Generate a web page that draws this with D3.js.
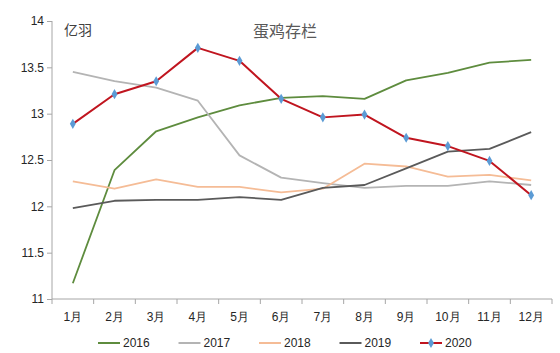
<!DOCTYPE html>
<html>
<head>
<meta charset="utf-8">
<script src="https://cdn.jsdelivr.net/npm/d3@7"></script>
<style>
  body { margin: 0; background: #fff; }
  svg { font-family: "Liberation Sans", Arial, "Noto Sans CJK SC", sans-serif; }
  .axis path, .axis line { stroke: #a6a6a6; }
  .axis text { fill: #262626; font-size: 12px; }
</style>
</head>
<body>
<svg id="chart"></svg>
<script>
// months and y ticks
const months = ["1月", "2月", "3月", "4月", "5月", "6月", "7月", "8月", "9月", "10月", "11月", "12月"];
const yTicks = [11, 11.5, 12, 12.5, 13, 13.5, 14];

// values (亿羽)
const s2016 = [11.17, 12.39, 12.81, 12.96, 13.09, 13.17, 13.19, 13.16, 13.36, 13.44, 13.55, 13.58];
const s2017 = [13.45, 13.35, 13.28, 13.14, 12.55, 12.31, 12.25, 12.20, 12.22, 12.22, 12.27, 12.23];
const s2018 = [12.27, 12.19, 12.29, 12.21, 12.21, 12.15, 12.19, 12.46, 12.43, 12.32, 12.34, 12.28];
const s2019 = [11.98, 12.06, 12.07, 12.07, 12.10, 12.07, 12.20, 12.23, 12.41, 12.59, 12.62, 12.80];
const s2020 = [12.89, 13.21, 13.35, 13.71, 13.57, 13.16, 12.96, 12.99, 12.74, 12.65, 12.49, 12.12];

const seriesNames = ["2016", "2017", "2018", "2019", "2020"];
const seriesValues = [s2016, s2017, s2018, s2019, s2020];
const colors = ["#5e8c3e", "#b4b4b4", "#f5bc96", "#5a5a5a", "#c0151f"];

const width = 560, height = 353;
const margin = { top: 21, right: 8, bottom: 54, left: 52 };
const innerW = width - margin.left - margin.right;
const innerH = height - margin.top - margin.bottom;

const svg = d3.select("#chart")
    .attr("width", width)
    .attr("height", height);

const chart = svg.append("g")
    .attr("transform", `translate(${margin.left},${margin.top})`);

const xScale = d3.scaleBand()
    .domain(months)
    .range([0, innerW]);

const yScale = d3.scaleLinear()
    .domain([11, 14])
    .range([innerH, 0]);

// axes
const xAxis = d3.axisBottom(xScale).tickSize(0).tickPadding(13);
const xAxisG = chart.append("g")
    .attr("class", "axis x-axis")
    .attr("transform", `translate(0,${innerH})`)
    .call(xAxis);
xAxisG.select(".domain").attr("d", `M0,0H${innerW}`);

// band boundary ticks
xAxisG.selectAll(".bound")
    .data(d3.range(months.length + 1))
    .join("line")
    .attr("class", "bound")
    .attr("x1", i => i * xScale.step())
    .attr("x2", i => i * xScale.step())
    .attr("y1", 0)
    .attr("y2", 5);

const yAxis = d3.axisLeft(yScale)
    .tickValues(yTicks)
    .tickFormat(d3.format("~g"))
    .tickSize(5)
    .tickPadding(3);
const yAxisG = chart.append("g")
    .attr("class", "axis y-axis")
    .call(yAxis);
yAxisG.select(".domain").attr("d", `M0,${innerH}V0`);

// lines
const line = d3.line()
    .x((d, i) => xScale(months[i]) + xScale.bandwidth() / 2)
    .y(d => yScale(d));

seriesValues.forEach((vals, k) => {
    chart.append("path")
        .datum(vals)
        .attr("fill", "none")
        .attr("stroke", colors[k])
        .attr("stroke-width", k === 4 ? 2 : 1.8)
        .attr("stroke-linejoin", "round")
        .attr("d", line);
});

// 2020 markers
const diamond = d3.symbol().type(d3.symbolDiamond).size(30);
chart.selectAll(".marker")
    .data(s2020)
    .join("path")
    .attr("class", "marker")
    .attr("d", diamond)
    .attr("fill", "#5b9bd5")
    .attr("transform", (d, i) => `translate(${xScale(months[i]) + xScale.bandwidth() / 2},${yScale(d)})`);

// titles
svg.append("text")
    .attr("x", 285)
    .attr("y", 37)
    .attr("text-anchor", "middle")
    .attr("fill", "#595959")
    .attr("font-size", 16)
    .text("蛋鸡存栏");

svg.append("text")
    .attr("x", 64)
    .attr("y", 35)
    .attr("fill", "#404040")
    .attr("font-size", 14)
    .text("亿羽");

// legend
const legend = svg.append("g")
    .attr("transform", "translate(98,343)");
const legendItem = legend.selectAll("g")
    .data(seriesNames)
    .join("g")
    .attr("transform", (d, i) => `translate(${i * 80.5},0)`);

legendItem.append("line")
    .attr("x1", 0).attr("x2", 22)
    .attr("y1", 0).attr("y2", 0)
    .attr("stroke", (d, i) => colors[i])
    .attr("stroke-width", 2);

legendItem.filter((d, i) => i === 4)
    .append("path")
    .attr("d", diamond)
    .attr("fill", "#5b9bd5")
    .attr("transform", "translate(11,0)");

legendItem.append("text")
    .attr("x", 25)
    .attr("y", 4)
    .attr("font-size", 12)
    .attr("fill", "#262626")
    .text(d => d);
</script>
</body>
</html>
